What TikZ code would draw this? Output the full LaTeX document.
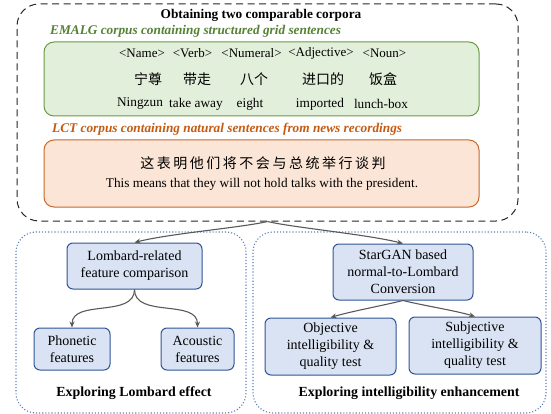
\documentclass[tikz,border=0pt]{standalone}
\usepackage{fontspec}
\setmainfont{Liberation Serif}
\newfontfamily\cjk{Noto Sans CJK SC}
\newfontfamily\cjksp[LetterSpace=18]{Noto Sans CJK SC}
\usetikzlibrary{arrows.meta}
\definecolor{gborder}{HTML}{6A9A48}
\definecolor{gfill}{HTML}{E2EFDA}
\definecolor{gtext}{HTML}{548235}
\definecolor{oborder}{HTML}{C8682A}
\definecolor{ofill}{HTML}{FBE5D6}
\definecolor{otext}{HTML}{C55A11}
\definecolor{bborder}{HTML}{2F5597}
\definecolor{bfill}{HTML}{DAE3F3}
\definecolor{dotc}{HTML}{5A7FB8}
\definecolor{arrc}{HTML}{595959}
\tikzset{
  bluebox/.style={draw=bborder, fill=bfill, line width=1pt, rounded corners=6pt, align=center, inner sep=2pt, font=\fontsize{14}{17}\selectfont},
  dotbox/.style={draw=dotc, dotted, line width=1.1pt, rounded corners=20pt},
  conn/.style={draw=arrc, line width=1.1pt, -{Stealth[length=6pt,width=5pt]}},
  gridtxt/.style={font=\fontsize{13.3}{15}\selectfont, inner sep=0pt},
  tagtxt/.style={font=\fontsize{13}{15}\selectfont, inner sep=0pt},
  cjktxt/.style={font=\cjk\fontsize{14}{15}\selectfont, inner sep=0pt},
  boldlab/.style={font=\bfseries\fontsize{13.9}{16}\selectfont},
}
\begin{document}
\begin{tikzpicture}[x=1pt,y=1pt]
\useasboundingbox (0,0) rectangle (551,-414);
% outer dashed box
\node[draw=black!85, dash pattern=on 7pt off 4.5pt, line width=1pt, rounded corners=22pt, minimum width=501pt, minimum height=217pt, inner sep=0pt] (outer) at (267.5,-112.5) {};
\node[font=\bfseries\fontsize{13.3}{15}\selectfont] (title) at (261,-15) {Obtaining two comparable corpora};
\node[font=\bfseries\itshape\fontsize{13.3}{15}\selectfont, text=gtext, anchor=west, inner sep=0pt] (gtitle) at (50,-31) {EMALG corpus containing structured grid sentences};
\node[draw=gborder, fill=gfill, line width=1pt, rounded corners=10pt, minimum width=435pt, minimum height=74pt, inner sep=0pt] (gbox) at (261.5,-79) {};
% grid rows
\node[tagtxt] (t1) at (142,-53) {<Name>};
\node[tagtxt] (t2) at (192.5,-53) {<Verb>};
\node[tagtxt] (t3) at (251.5,-53) {<Numeral>};
\node[tagtxt] (t4) at (321,-53) {<Adjective>};
\node[tagtxt] (t5) at (384.5,-53) {<Noun>};
\node[cjktxt] (c1) at (148,-79) {宁尊};
\node[cjktxt] (c2) at (197,-79) {带走};
\node[cjktxt] (c3) at (254,-79) {八个};
\node[cjktxt] (c4) at (323,-79) {进口的};
\node[cjktxt] (c5) at (383,-79) {饭盒};
\node[gridtxt] (e1) at (140,-104) {Ningzun};
\node[gridtxt] (e2) at (196,-104) {take away};
\node[gridtxt] (e3) at (250,-104) {eight};
\node[gridtxt] (e4) at (320,-104) {imported};
\node[gridtxt] (e5) at (381,-104) {lunch-box};
% LCT
\node[font=\bfseries\itshape\fontsize{13.3}{15}\selectfont, text=otext, anchor=west, inner sep=0pt] (otitle) at (52,-129) {LCT corpus containing natural sentences from news recordings};
\node[draw=oborder, fill=ofill, line width=1pt, rounded corners=10pt, minimum width=435pt, minimum height=67pt, inner sep=0pt] (obox) at (261.5,-173.5) {};
\node[font=\cjksp\fontsize{14}{15}\selectfont, inner sep=0pt] (zh) at (263,-163) {这表明他们将不会与总统举行谈判};
\node[gridtxt] (en) at (262,-184) {This means that they will not hold talks with the president.};
% bottom panels
\node[dotbox, minimum width=230pt, minimum height=181pt, inner sep=0pt] (lpanel) at (131,-322.5) {};
\node[dotbox, minimum width=293pt, minimum height=181pt, inner sep=0pt] (rpanel) at (399.5,-322.5) {};
\node[bluebox, minimum width=135pt, minimum height=46pt] (lomb) at (134.5,-266) {Lombard-related\\feature comparison};
\node[bluebox, minimum width=76pt, minimum height=42pt] (phon) at (72,-349) {Phonetic\\features};
\node[bluebox, minimum width=73pt, minimum height=42pt] (acou) at (197.5,-349) {Acoustic\\features};
\node[bluebox, minimum width=140pt, minimum height=56pt] (star) at (403,-272) {StarGAN based\\normal-to-Lombard\\Conversion};
\node[bluebox, minimum width=131pt, minimum height=57pt] (obj) at (330.5,-346.5) {Objective\\intelligibility \&\\quality test};
\node[bluebox, minimum width=132pt, minimum height=57pt] (subj) at (475,-345.5) {Subjective\\intelligibility \&\\quality test};
\node[boldlab] (llab) at (134,-393) {Exploring Lombard effect};
\node[boldlab] (rlab) at (409,-393) {Exploring intelligibility enhancement};
% connectors
\draw[conn] (outer.south) .. controls +(-25,-6) and +(35,9) .. (lomb.north);
\draw[conn] (outer.south) .. controls +(25,-6) and +(-35,9) .. (star.north);
\draw[conn] (lomb.south) to[out=-90,in=90] (phon.north);
\draw[conn] (lomb.south) to[out=-90,in=90] (acou.north);
\draw[conn] (star.south) .. controls +(-20,-5) and +(20,6) .. (obj.north);
\draw[conn] (star.south) .. controls +(20,-5) and +(-20,6) .. (subj.north);
\end{tikzpicture}
\end{document}
